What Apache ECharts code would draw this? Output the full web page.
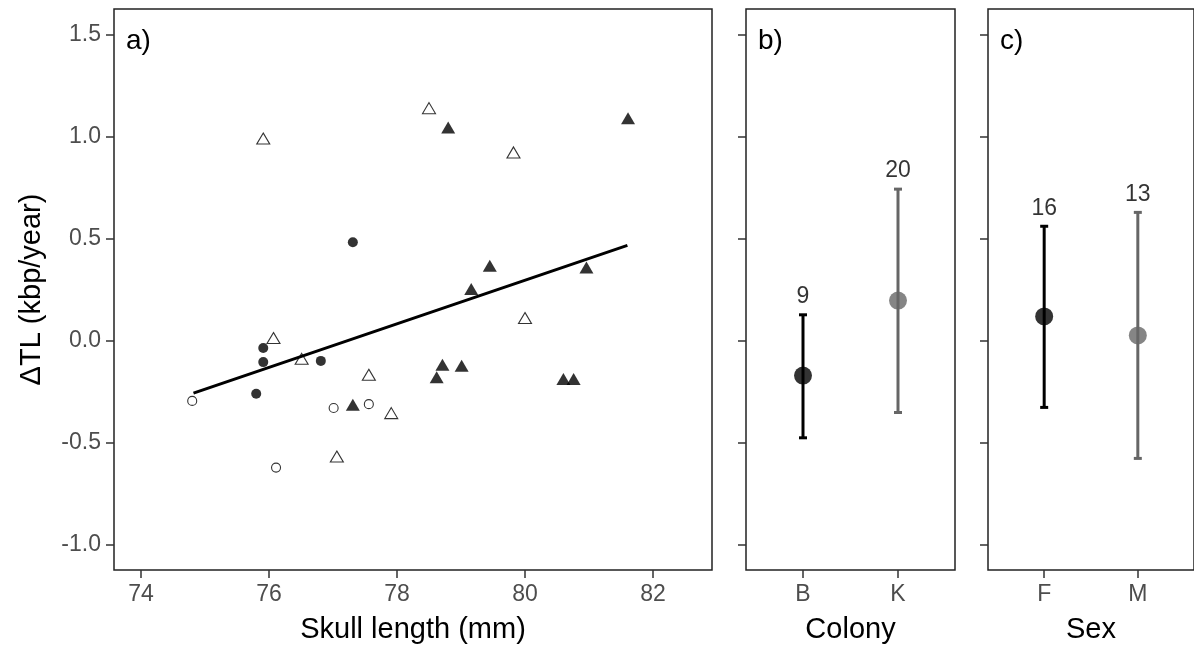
<!DOCTYPE html>
<html>
<head>
<meta charset="utf-8">
<script src="https://cdn.jsdelivr.net/npm/echarts@6/dist/echarts.min.js"></script>
<style>
html,body{margin:0;padding:0;background:#fff;}
#chart{width:1194px;height:649px;}
</style>
</head>
<body>
<div id="chart"></div>
<script>
// ---------- data ----------
// Panel a: skull length vs ΔTL
const filledCircleX = [75.91, 75.91, 76.81, 75.80, 77.31];
const filledCircleY = [-0.037, -0.106, -0.100, -0.261, 0.482];
const openCircleX = [74.80, 77.01, 77.56, 76.11];
const openCircleY = [-0.296, -0.331, -0.312, -0.623];
const filledTriX = [77.31, 78.80, 81.61, 79.45, 80.96, 79.16, 78.71, 78.62, 79.01, 80.60, 80.76];
const filledTriY = [-0.315, 1.044, 1.090, 0.366, 0.358, 0.253, -0.119, -0.180, -0.124, -0.189, -0.189];
const openTriX = [75.91, 76.07, 76.51, 77.56, 77.91, 77.06, 78.50, 79.82, 80.00];
const openTriY = [0.990, 0.012, -0.090, -0.168, -0.356, -0.569, 1.139, 0.922, 0.110];
const fitLineX = [74.82, 81.60];
const fitLineY = [-0.258, 0.466];
const skullTicks = [74, 76, 78, 80, 82];
const yTicks = [-1.0, -0.5, 0.0, 0.5, 1.0, 1.5];

// Panel b: colony
const colonyCats = ['B', 'K'];
const colonyMean = [-0.172, 0.196];
const colonyLow = [-0.477, -0.353];
const colonyHigh = [0.126, 0.742];
const colonyN = [9, 20];

// Panel c: sex
const sexCats = ['F', 'M'];
const sexMean = [0.118, 0.025];
const sexLow = [-0.328, -0.578];
const sexHigh = [0.560, 0.628];
const sexN = [16, 13];

const groupColors = ['#000000', '#666666'];

// ---------- helpers ----------
const FONT = "'Liberation Sans', Arial, sans-serif";
const yMin = -1.125, yMax = 1.625;
const zip = (a, b) => a.map((v, i) => [v, b[i]]);

function baseY(gridIndex, showLabels, name) {
  return {
    type: 'value', gridIndex, min: yMin, max: yMax,
    splitLine: {show: false},
    axisLine: {show: false, onZero: false},
    axisTick: {show: true, inside: false, length: 8, customValues: yTicks,
      lineStyle: {color: '#333333', width: 1.5}},
    axisLabel: {show: showLabels, customValues: yTicks, margin: 13,
      formatter: v => Number(v).toFixed(1),
      color: '#4d4d4d', fontSize: 23, fontFamily: FONT},
    name: name || '', nameLocation: 'middle', nameGap: 68, nameRotate: 90,
    nameTextStyle: {color: '#000', fontSize: 29, fontFamily: FONT}
  };
}
function catX(gridIndex, cats, name) {
  return {
    type: 'value', gridIndex, min: 0.4, max: 2.6,
    splitLine: {show: false},
    axisLine: {show: false, onZero: false},
    axisTick: {show: true, length: 8, customValues: [1, 2],
      lineStyle: {color: '#333333', width: 1.5}},
    axisLabel: {show: true, customValues: [1, 2], margin: 13,
      formatter: v => cats[Math.round(v) - 1],
      color: '#4d4d4d', fontSize: 23, fontFamily: FONT},
    name, nameLocation: 'middle', nameGap: 45,
    nameTextStyle: {color: '#000', fontSize: 29, fontFamily: FONT}
  };
}
function errorBarSeries(idx, low, high) {
  return {
    type: 'custom', xAxisIndex: idx, yAxisIndex: idx, z: 3,
    encode: {x: 0, y: [1, 2]},
    data: low.map((l, i) => [i + 1, l, high[i]]),
    renderItem: (params, api) => {
      const x = api.value(0);
      const pLo = api.coord([x, api.value(1)]);
      const pHi = api.coord([x, api.value(2)]);
      const c = groupColors[params.dataIndex];
      const cap = 4;
      const st = {stroke: c, lineWidth: 3};
      return {type: 'group', children: [
        {type: 'line', shape: {x1: pLo[0], y1: pLo[1], x2: pHi[0], y2: pHi[1]}, style: st},
        {type: 'line', shape: {x1: pLo[0] - cap, y1: pLo[1], x2: pLo[0] + cap, y2: pLo[1]}, style: st},
        {type: 'line', shape: {x1: pHi[0] - cap, y1: pHi[1], x2: pHi[0] + cap, y2: pHi[1]}, style: st}
      ]};
    }
  };
}
function meanSeries(idx, mean) {
  return {
    type: 'scatter', xAxisIndex: idx, yAxisIndex: idx, z: 4,
    symbol: 'circle', symbolSize: 18,
    data: mean.map((m, i) => ({value: [i + 1, m], itemStyle: {color: groupColors[i]}}))
  };
}
function nSeries(idx, high, n) {
  return {
    type: 'scatter', xAxisIndex: idx, yAxisIndex: idx, z: 5,
    symbol: 'circle', symbolSize: 1, itemStyle: {color: 'rgba(0,0,0,0)'},
    data: high.map((h, i) => [i + 1, h, n[i]]),
    label: {show: true, position: 'top', distance: 6,
      formatter: p => String(p.value[2]),
      color: '#000', fontSize: 23, fontFamily: FONT}
  };
}

const gridStyle = {show: true, borderColor: '#222222', borderWidth: 1.5, backgroundColor: 'rgba(0,0,0,0)'};

const option = {
  animation: false,
  backgroundColor: '#ffffff',
  textStyle: {fontFamily: FONT},
  title: [
    {text: 'a)', left: 121, top: 22, textStyle: {fontSize: 28, fontWeight: 'normal', color: '#000', fontFamily: FONT}},
    {text: 'b)', left: 753, top: 22, textStyle: {fontSize: 28, fontWeight: 'normal', color: '#000', fontFamily: FONT}},
    {text: 'c)', left: 995, top: 22, textStyle: {fontSize: 28, fontWeight: 'normal', color: '#000', fontFamily: FONT}}
  ],
  grid: [
    Object.assign({left: 114, top: 9, width: 598, height: 561}, gridStyle),
    Object.assign({left: 746, top: 9, width: 209, height: 561}, gridStyle),
    Object.assign({left: 988, top: 9, width: 209, height: 566}, gridStyle)
  ],
  xAxis: [
    {
      type: 'value', gridIndex: 0, min: 73.578, max: 82.922,
      splitLine: {show: false}, axisLine: {show: false, onZero: false},
      axisTick: {show: true, length: 8, customValues: skullTicks, lineStyle: {color: '#333333', width: 1.5}},
      axisLabel: {show: true, customValues: skullTicks, margin: 13, color: '#4d4d4d', fontSize: 23, fontFamily: FONT},
      name: 'Skull length (mm)', nameLocation: 'middle', nameGap: 45,
      nameTextStyle: {color: '#000', fontSize: 29, fontFamily: FONT}
    },
    catX(1, colonyCats, 'Colony'),
    catX(2, sexCats, 'Sex')
  ],
  yAxis: [
    baseY(0, true, 'ΔTL (kbp/year)'),
    baseY(1, false),
    baseY(2, false)
  ],
  series: [
    {type: 'scatter', xAxisIndex: 0, yAxisIndex: 0, z: 2, symbol: 'circle', symbolSize: 10,
      itemStyle: {color: '#000'}, data: zip(filledCircleX, filledCircleY)},
    {type: 'scatter', xAxisIndex: 0, yAxisIndex: 0, z: 2, symbol: 'circle', symbolSize: 9,
      itemStyle: {color: 'rgba(0,0,0,0)', borderColor: '#000', borderWidth: 1.1}, data: zip(openCircleX, openCircleY)},
    {type: 'scatter', xAxisIndex: 0, yAxisIndex: 0, z: 2, symbol: 'triangle', symbolSize: [14, 12],
      itemStyle: {color: '#000'}, data: zip(filledTriX, filledTriY)},
    {type: 'scatter', xAxisIndex: 0, yAxisIndex: 0, z: 2, symbol: 'triangle', symbolSize: [13, 11],
      itemStyle: {color: 'rgba(0,0,0,0)', borderColor: '#000', borderWidth: 1.1}, data: zip(openTriX, openTriY)},
    {type: 'line', xAxisIndex: 0, yAxisIndex: 0, z: 3, symbol: 'none', silent: true,
      lineStyle: {color: '#000', width: 3}, data: zip(fitLineX, fitLineY)},
    errorBarSeries(1, colonyLow, colonyHigh),
    meanSeries(1, colonyMean),
    nSeries(1, colonyHigh, colonyN),
    errorBarSeries(2, sexLow, sexHigh),
    meanSeries(2, sexMean),
    nSeries(2, sexHigh, sexN)
  ]
};

const chart = echarts.init(document.getElementById('chart'), null, {renderer: 'canvas'});
chart.setOption(option);
</script>
</body>
</html>
